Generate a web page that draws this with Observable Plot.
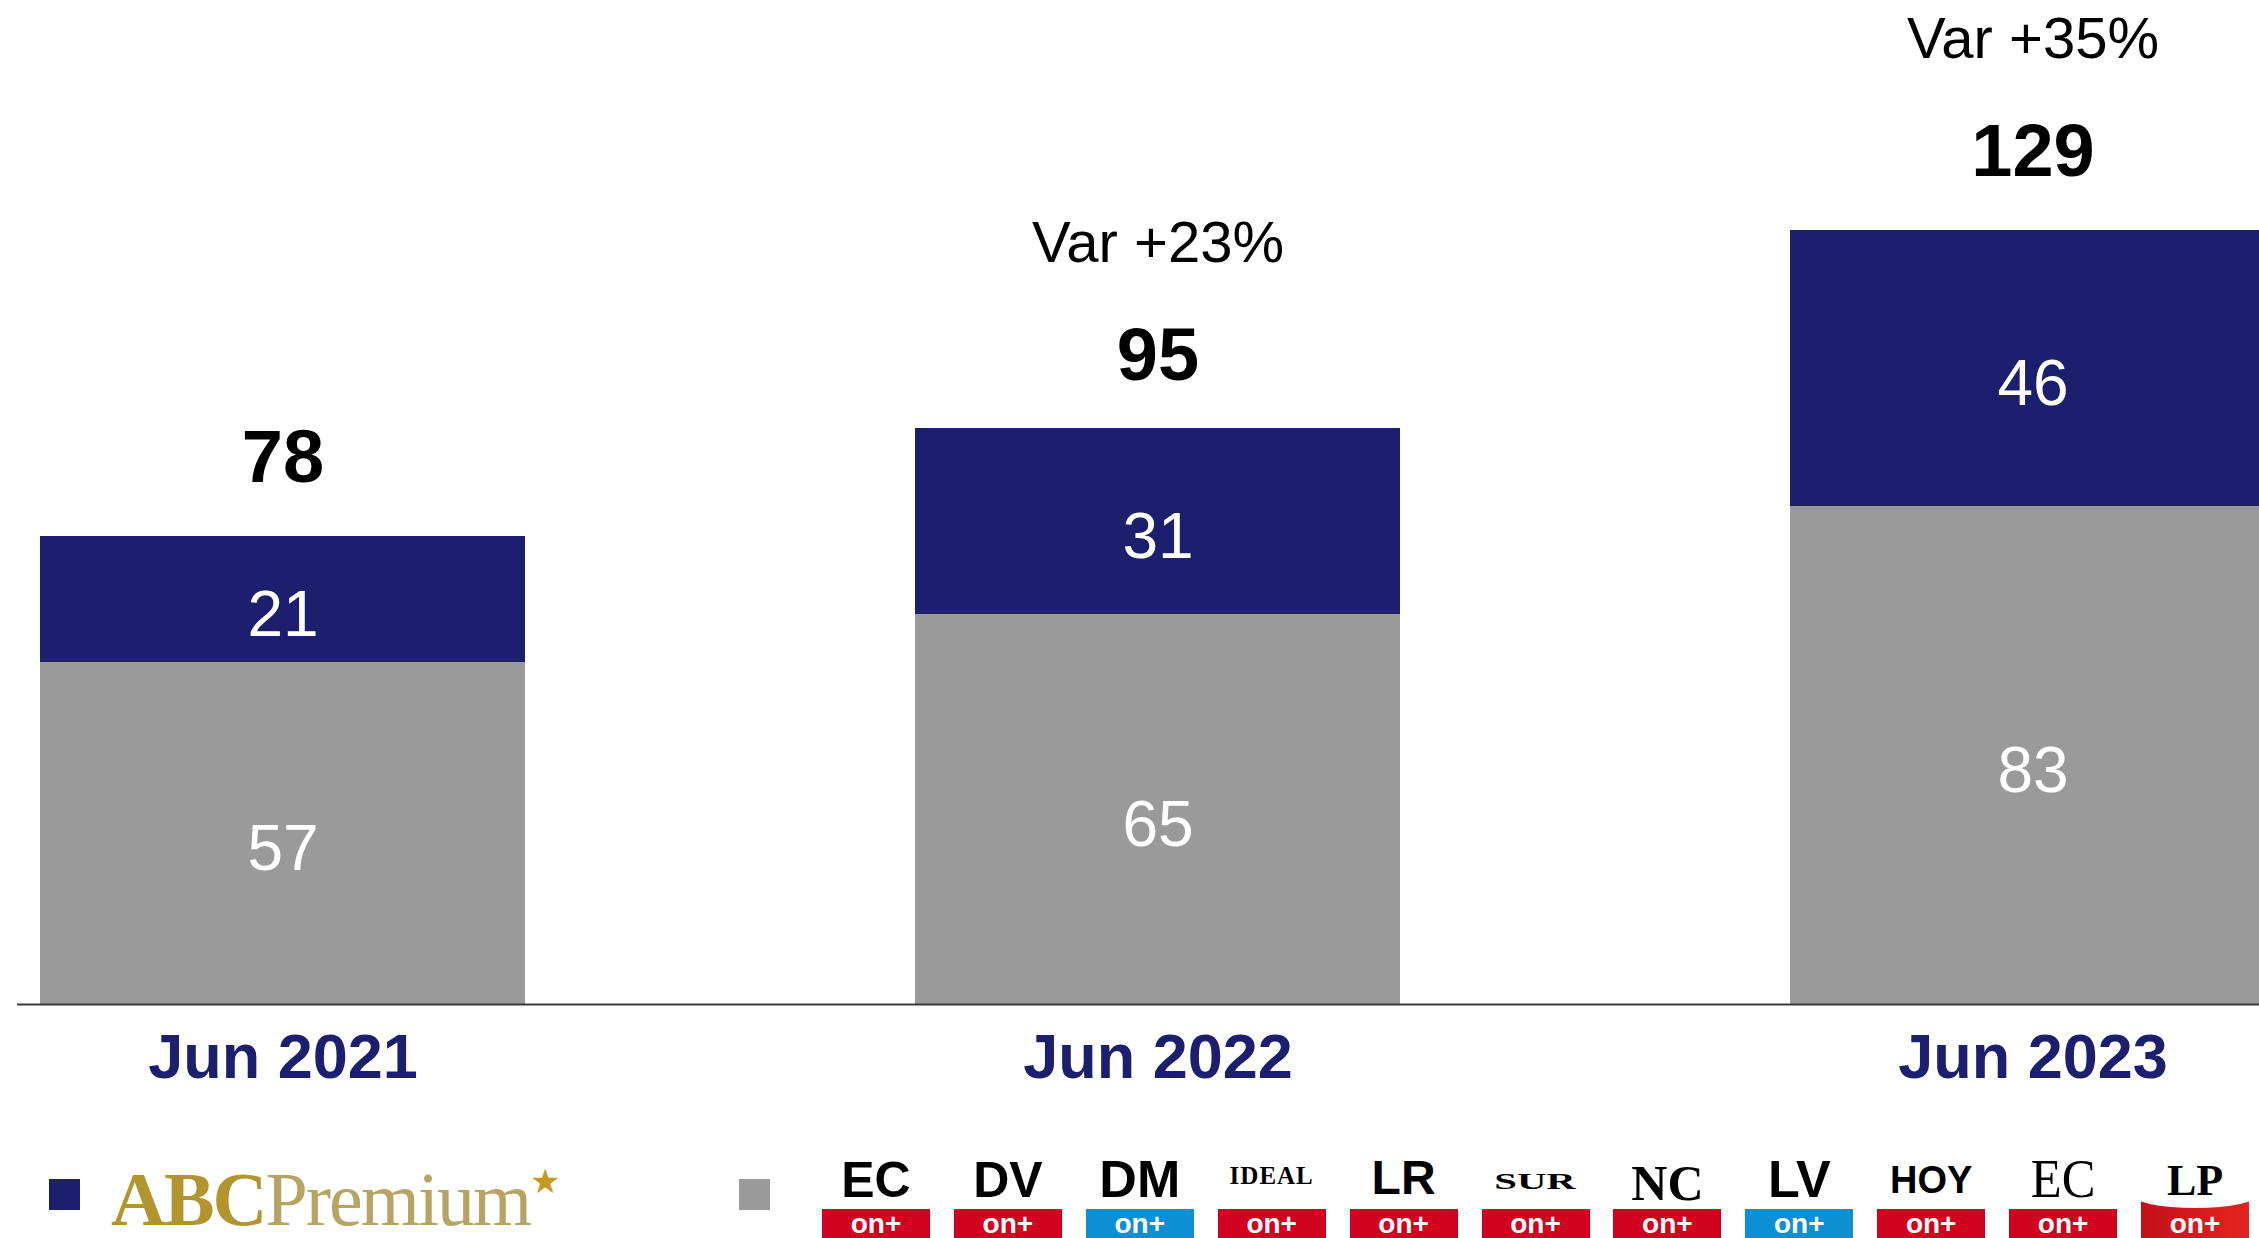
<!DOCTYPE html>
<html>
<head>
<meta charset="utf-8">
<script src="https://cdn.jsdelivr.net/npm/d3@7"></script>
<script src="https://cdn.jsdelivr.net/npm/@observablehq/plot@0.6"></script>
<style>
  html, body { margin: 0; padding: 0; background: #fff; }
  body { width: 2259px; height: 1238px; overflow: hidden; position: relative; font-family: "Liberation Sans", Arial, sans-serif; }
  #chart { position: absolute; left: 0; top: 0; }
  #chart svg { overflow: hidden; max-width: none; }
  .sq { position: absolute; width: 31px; height: 31px; }
  .abc { position: absolute; left: 111px; top: 1161px; height: 76px; font-family: "Liberation Serif", serif; font-size: 76px; line-height: 76px; white-space: nowrap; letter-spacing: -2px; }
  .abc .b { color: #b3952f; font-weight: bold; }
  .abc .r { color: #b7a462; font-weight: normal; }
  .abc .s { color: #c49a22; font-size: 34px; position: relative; top: -32px; }
  .logo { position: absolute; top: 1150px; width: 108px; height: 100px; }
  .logo .t { position: absolute; left: 0; right: 0; top: 0; height: 59px; box-sizing: border-box; display: flex; align-items: flex-end; justify-content: center; color: #000; white-space: nowrap; }
  .logo .band { position: absolute; left: 0; right: 0; top: 59px; height: 41px; color: #fff; font-family: "Liberation Sans", sans-serif; font-weight: bold; font-size: 28px; text-align: center; line-height: 30px; }
</style>
</head>
<body>
<div id="chart"></div>
<div id="legend"></div>
<script>
// ---- data ----
const periods = ["Jun 2021", "Jun 2022", "Jun 2023"];
const series = ["Regionales", "ABC Premium"];
const regionales = [57, 65, 83];
const abcPremium = [21, 31, 46];
const totals = [78, 95, 129];
const variations = ["", "Var +23%", "Var +35%"];
const regionalLogos = ["EC", "DV", "DM", "IDEAL", "LR", "SUR", "NC", "LV", "HOY", "EC", "LP"];

const NAVY = "#1b1f6d";
const GRAY = "#9a9a9a";

const rows = [];
periods.forEach((p, i) => rows.push({period: p, series: series[0], value: regionales[i]}));
periods.forEach((p, i) => rows.push({period: p, series: series[1], value: abcPremium[i]}));
const totalRows = periods.map((p, i) => ({period: p, total: totals[i], variation: variations[i]}));

const chart = Plot.plot({
  width: 2259,
  height: 1140,
  marginLeft: 17,
  marginRight: 0,
  marginTop: 0,
  marginBottom: 136,
  style: {fontFamily: "Liberation Sans, Arial, sans-serif", background: "white", overflow: "hidden"},
  x: {domain: periods, range: [39, 2276], paddingInner: 0.446, paddingOuter: 0, label: null},
  y: {domain: [0, 1004 / 6], axis: null},
  color: {domain: series, range: [GRAY, NAVY]},
  marks: [
    Plot.barY(rows, {x: "period", y: "value", fill: "series", z: "series"}),
    Plot.ruleY([0], {stroke: "#3a3a3a", strokeWidth: 2}),
    Plot.text(rows, Plot.stackY({x: "period", y: "value", z: "series", text: d => String(d.value), fill: "white", fontSize: 64, dy: 16})),
    Plot.text(totalRows, {x: "period", y: "total", text: d => String(d.total), fill: "black", fontSize: 74, fontWeight: "bold", dy: -78}),
    Plot.text(totalRows, {x: "period", y: "total", text: "variation", fill: "black", fontSize: 58, dy: -191}),
    Plot.axisX({tickSize: 0, tickPadding: 29, fontSize: 63, fontWeight: "bold", color: NAVY, label: null})
  ]
});
document.getElementById("chart").appendChild(chart);

// ---- legend ----
const legend = d3.select("#legend");
legend.append("div").attr("class", "sq").style("left", "49px").style("top", "1179px").style("background", NAVY);
const abc = legend.append("div").attr("class", "abc");
abc.append("span").attr("class", "b").text("ABC");
abc.append("span").attr("class", "r").text("Premium");
abc.append("span").attr("class", "s").text("★");
legend.append("div").attr("class", "sq").style("left", "739px").style("top", "1179px").style("background", GRAY);

const logoStyle = [
  {font: "bold 50px 'Liberation Sans'", band: "#d0021f", pb: 4},
  {font: "bold 50px 'Liberation Sans'", band: "#d0021f", pb: 4},
  {font: "bold 52px 'Liberation Sans'", band: "#0d8fd3", pb: 4},
  {font: "bold 25px 'Liberation Serif'", band: "#d0021f", pb: 21, ls: "1px"},
  {font: "bold 48px 'Liberation Sans'", band: "#d0021f", pb: 7},
  {font: "bold 24px 'Liberation Serif'", band: "#d0021f", pb: 16, sx: 1.7},
  {font: "bold 50px 'Liberation Serif'", band: "#d0021f", pb: 1},
  {font: "bold 52px 'Liberation Sans'", band: "#0d8fd3", pb: 4},
  {font: "bold 38px 'Liberation Sans'", band: "#d0021f", pb: 10},
  {font: "normal 55px 'Liberation Serif'", band: "#d0021f", pb: 3, sx: 0.92},
  {font: "900 44px 'Liberation Serif'", band: "linear-gradient(90deg,#c4101c,#e3251f)", pb: 6, curve: true}
];
regionalLogos.forEach((name, i) => {
  const st = logoStyle[i];
  const box = legend.append("div").attr("class", "logo").style("left", (822 + i * 131.9) + "px");
  const t = box.append("div").attr("class", "t").style("padding-bottom", st.pb + "px");
  const span = t.append("span").style("font", st.font).style("line-height", "1").style("display", "inline-block").text(name);
  if (st.ls) span.style("letter-spacing", st.ls);
  if (st.sx) span.style("transform", `scaleX(${st.sx})`).style("transform-origin", "center bottom");
  const band = box.append("div").attr("class", "band").style("background", st.band).text("on+");
  if (st.curve) {
    band.style("top", "50px").style("height", "50px").style("line-height", "48px");
    box.append("div").style("position", "absolute").style("left", "-10px").style("right", "-10px").style("top", "30px").style("height", "28px")
      .style("background", "#fff").style("border-radius", "0 0 50% 50%");
    t.style("z-index", "2");
  }
});
</script>
</body>
</html>
